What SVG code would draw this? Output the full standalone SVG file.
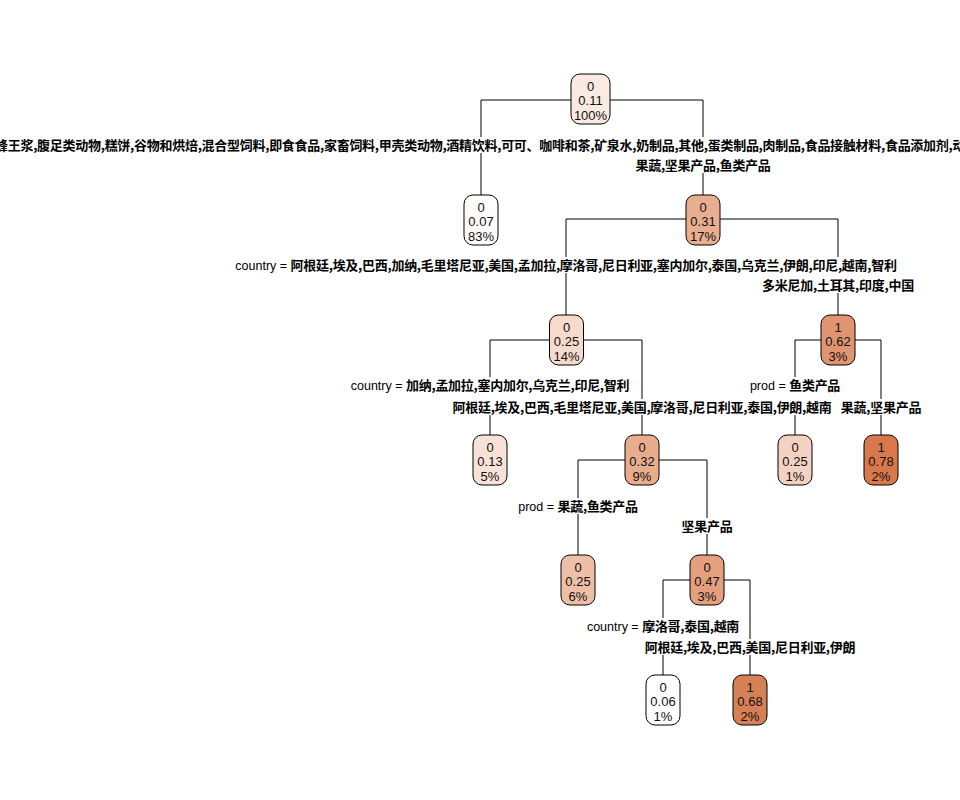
<svg xmlns="http://www.w3.org/2000/svg" width="960" height="800" viewBox="0 0 960 800">
<style>
.bx{stroke:#000;stroke-width:1}
.nt{font-family:"Liberation Sans",Arial,sans-serif;font-size:13px;fill:#111;text-anchor:middle}
.lb{font-family:"Noto Sans CJK SC","Liberation Sans",sans-serif;font-size:13px;font-weight:bold;fill:#000;text-anchor:middle;letter-spacing:-0.28px}
.pf{font-family:"Liberation Sans",Arial,sans-serif;font-size:12.5px;font-weight:normal;letter-spacing:0}
.cn path{fill:none;stroke:#000;stroke-width:1}
</style>
<rect width="960" height="800" fill="#fff"/>
<g class="cn" id="connectors">
<path d="M481,100H703M481,100V137M481,153V195M703,100V137M703,173V195"/>
<path d="M566,219H838M566,219V257M566,273V315M838,219V257M838,293V315"/>
<path d="M490,340H642M490,340V377M490,415V435M642,340V399M642,415V435"/>
<path d="M795,340H881M795,340V377M795,415V435M881,340V399M881,415V435"/>
<path d="M578,460H707M578,460V498M578,514V555M707,460V518M707,534V555"/>
<path d="M663,580H750M663,580V618M663,655V675M750,580V639M750,655V675"/>
</g>
<g id="labels">
<text class="lb" x="-5" y="150" style="text-anchor:start">蜂王浆,腹足类动物,糕饼,谷物和烘焙,混合型饲料,即食食品,家畜饲料,甲壳类动物,酒精饮料,可可、咖啡和茶,矿泉水,奶制品,其他,蛋类制品,肉制品,食品接触材料,食品添加剂,动</text>
<text class="lb" x="703" y="170">果蔬,坚果产品,鱼类产品</text>
<text class="lb" x="566" y="270"><tspan class="pf">country = </tspan>阿根廷,埃及,巴西,加纳,毛里塔尼亚,美国,孟加拉,摩洛哥,尼日利亚,塞内加尔,泰国,乌克兰,伊朗,印尼,越南,智利</text>
<text class="lb" x="838" y="290">多米尼加,土耳其,印度,中国</text>
<text class="lb" x="490" y="390"><tspan class="pf">country = </tspan>加纳,孟加拉,塞内加尔,乌克兰,印尼,智利</text>
<text class="lb" x="642" y="412">阿根廷,埃及,巴西,毛里塔尼亚,美国,摩洛哥,尼日利亚,泰国,伊朗,越南</text>
<text class="lb" x="795" y="390"><tspan class="pf">prod = </tspan>鱼类产品</text>
<text class="lb" x="881" y="412">果蔬,坚果产品</text>
<text class="lb" x="578" y="511"><tspan class="pf">prod = </tspan>果蔬,鱼类产品</text>
<text class="lb" x="707" y="531">坚果产品</text>
<text class="lb" x="663" y="631"><tspan class="pf">country = </tspan>摩洛哥,泰国,越南</text>
<text class="lb" x="750" y="652">阿根廷,埃及,巴西,美国,尼日利亚,伊朗</text>
</g>
<g id="n1"><rect class="bx" x="571" y="74" width="39" height="50" rx="9" fill="#FBEAE1"/><text class="nt" x="590.5" y="90.5">0</text><text class="nt" x="590.5" y="105">0.11</text><text class="nt" x="590.5" y="119.5">100%</text></g>
<g id="n2"><rect class="bx" x="464" y="195" width="34" height="50" rx="9" fill="#FFFCFB"/><text class="nt" x="481" y="211.5">0</text><text class="nt" x="481" y="226">0.07</text><text class="nt" x="481" y="240.5">83%</text></g>
<g id="n3"><rect class="bx" x="686" y="195" width="34" height="50" rx="9" fill="#E9AE8F"/><text class="nt" x="703" y="211.5">0</text><text class="nt" x="703" y="226">0.31</text><text class="nt" x="703" y="240.5">17%</text></g>
<g id="n4"><rect class="bx" x="549.5" y="315" width="34" height="50" rx="9" fill="#F6DACC"/><text class="nt" x="566.5" y="331.5">0</text><text class="nt" x="566.5" y="346">0.25</text><text class="nt" x="566.5" y="360.5">14%</text></g>
<g id="n5"><rect class="bx" x="821" y="315" width="34" height="50" rx="9" fill="#E0946F"/><text class="nt" x="838" y="331.5">1</text><text class="nt" x="838" y="346">0.62</text><text class="nt" x="838" y="360.5">3%</text></g>
<g id="n6"><rect class="bx" x="473" y="435" width="34" height="50" rx="9" fill="#F8E2D7"/><text class="nt" x="490" y="451.5">0</text><text class="nt" x="490" y="466">0.13</text><text class="nt" x="490" y="480.5">5%</text></g>
<g id="n7"><rect class="bx" x="625" y="435" width="34" height="50" rx="9" fill="#E8AD8D"/><text class="nt" x="642" y="451.5">0</text><text class="nt" x="642" y="466">0.32</text><text class="nt" x="642" y="480.5">9%</text></g>
<g id="n8"><rect class="bx" x="778" y="435" width="34" height="50" rx="9" fill="#F3D2C1"/><text class="nt" x="795" y="451.5">0</text><text class="nt" x="795" y="466">0.25</text><text class="nt" x="795" y="480.5">1%</text></g>
<g id="n9"><rect class="bx" x="864" y="435" width="34" height="50" rx="9" fill="#D9784D"/><text class="nt" x="881" y="451.5">1</text><text class="nt" x="881" y="466">0.78</text><text class="nt" x="881" y="480.5">2%</text></g>
<g id="n10"><rect class="bx" x="561" y="555" width="34" height="50" rx="9" fill="#EEBFA7"/><text class="nt" x="578" y="571.5">0</text><text class="nt" x="578" y="586">0.25</text><text class="nt" x="578" y="600.5">6%</text></g>
<g id="n11"><rect class="bx" x="690" y="555" width="34" height="50" rx="9" fill="#E39F7E"/><text class="nt" x="707" y="571.5">0</text><text class="nt" x="707" y="586">0.47</text><text class="nt" x="707" y="600.5">3%</text></g>
<g id="n12"><rect class="bx" x="646" y="675" width="34" height="50" rx="9" fill="#FFFFFF"/><text class="nt" x="663" y="691.5">0</text><text class="nt" x="663" y="706">0.06</text><text class="nt" x="663" y="720.5">1%</text></g>
<g id="n13"><rect class="bx" x="733" y="675" width="34" height="50" rx="9" fill="#D68055"/><text class="nt" x="750" y="691.5">1</text><text class="nt" x="750" y="706">0.68</text><text class="nt" x="750" y="720.5">2%</text></g>
</svg>
